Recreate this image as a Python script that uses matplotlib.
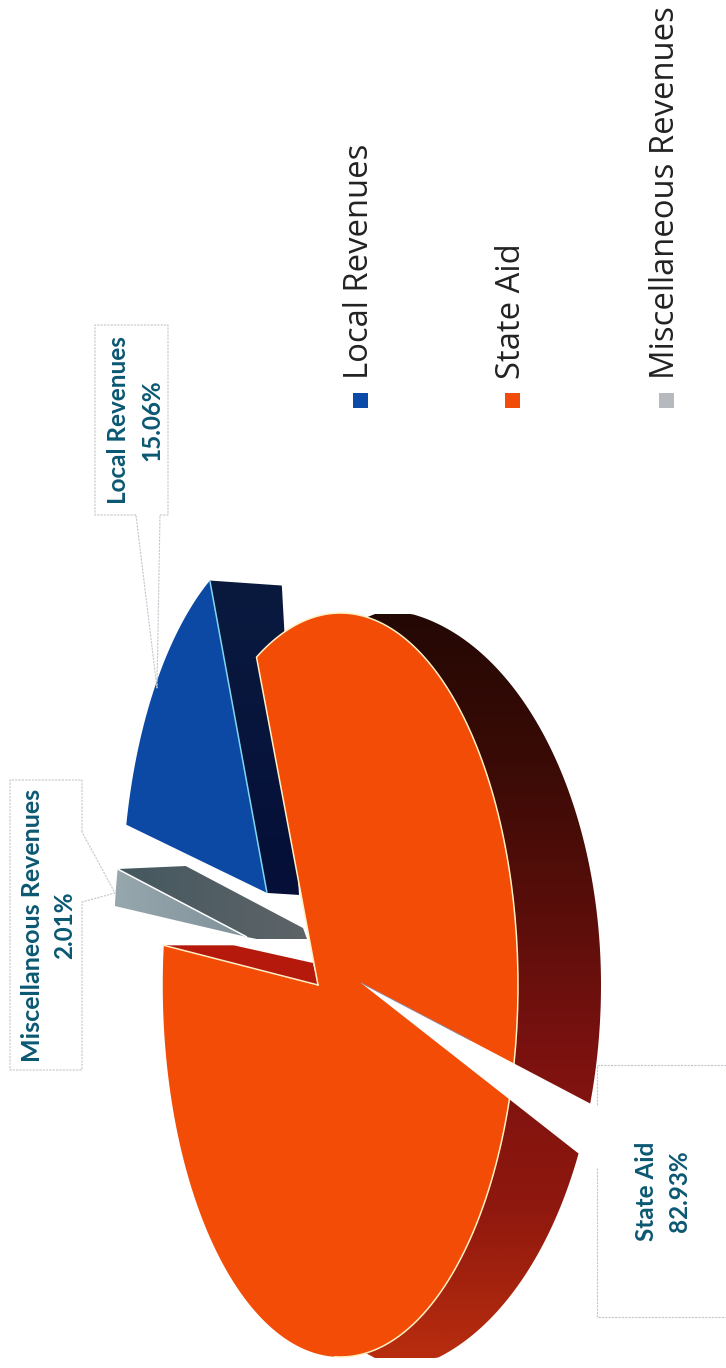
import matplotlib
matplotlib.use("Agg")
import matplotlib.pyplot as plt
import numpy as np
from matplotlib.colors import LinearSegmentedColormap
from matplotlib.patches import Polygon, Rectangle

plt.rcParams['font.family'] = ['Lato', 'DejaVu Sans']

# data
categories = ["Local Revenues", "State Aid", "Miscellaneous Revenues"]
shares = [15.06, 82.93, 2.01]
share_labels = ["15.06%", "82.93%", "2.01%"]
legend_colors = ["#0b4aa6", "#f24c0a", "#b6b9bd"]

# pie projection: the flat circle (u, v) goes to pixels through a perspective map
X0, Y0 = 318, 985
A, B, P = 174.8, 369, -0.126
STATE_START = 248.4   # degrees, clockwise on screen


def project(u, v):
    w = 1 + P * u
    return X0 + A * u / w, Y0 + B * v / w


def radial_end(theta, offset=(0, 0), radius=1.0):
    t = np.radians(theta)
    return project(offset[0] + radius * np.cos(t), offset[1] + radius * np.sin(t))


def slice_outline(start, sweep, offset=(0, 0), radius=1.0):
    theta = np.linspace(start, start + sweep, 240)
    t = np.radians(theta)
    x, y = project(offset[0] + radius * np.cos(t), offset[1] + radius * np.sin(t))
    ax0, ay0 = project(*offset)
    return np.column_stack([np.r_[ax0, x], np.r_[ay0, y]]), theta


def grad_fill(ax, points, colors, vertical=True, zorder=2):
    # gradient filled polygon, the image is clipped by the polygon
    patch = Polygon(points, closed=True, facecolor="none", edgecolor="none", zorder=zorder)
    ax.add_patch(patch)
    cmap = LinearSegmentedColormap.from_list("g", colors)
    ramp = np.linspace(0, 1, 256)
    ramp = ramp[:, None] if vertical else ramp[None, :]
    xs, ys = points[:, 0], points[:, 1]
    im = ax.imshow(ramp, cmap=cmap, aspect="auto", origin="upper", zorder=zorder,
                   extent=[xs.min(), xs.max(), ys.max(), ys.min()])
    im.set_clip_path(patch)


fig = plt.figure(figsize=(7.26, 13.68), dpi=100)
ax = fig.add_axes([0, 0, 1, 1])

sweeps = [s / sum(shares) * 360 for s in shares]
state_sweep = sweeps[1]
misc_start = STATE_START + state_sweep - 360
local_start = misc_start + sweeps[2]

# exploded slices
local_offset = (-0.303, -0.259)
misc_offset = (-0.428, -0.137)
misc_radius = 0.94

# --- State Aid cut side, seen through the gap
sx, sy = radial_end(misc_start)
wall = np.array([[sx, sy], [sx + 70, sy], [X0 - 5, Y0 - 22], [X0, Y0]])
ax.add_patch(Polygon(wall, closed=True, facecolor="#b5190b", edgecolor="none", zorder=2))

# --- Local Revenues
local_pts, _ = slice_outline(local_start, sweeps[0], local_offset)
lax, lay = project(*local_offset)
lex, ley = radial_end(local_start + sweeps[0], local_offset)
local_wall = np.array([[lax, lay], [lex, ley], [lex + 72, ley + 5], [lax + 32, lay + 2]])
grad_fill(ax, local_wall, ["#0a1a3f", "#050f38"], zorder=3)
ax.add_patch(Polygon(local_pts, closed=True, facecolor="#0b49a5", edgecolor="none", zorder=4))
ax.plot([lax, lex], [lay, ley], color="#7fd6ee", lw=1.1, zorder=5, solid_capstyle="butt")

# --- Miscellaneous Revenues
misc_pts, _ = slice_outline(misc_start, sweeps[2], misc_offset, misc_radius)
max_, may = project(*misc_offset)
mex, mey = radial_end(misc_start + sweeps[2], misc_offset, misc_radius)
misc_wall = np.array([[max_, may], [mex, mey], [mex + 68, mey - 3], [max_ + 56, may - 9],
                      [max_ + 60, may + 2], [max_ + 10, may + 2]])
grad_fill(ax, misc_wall, ["#44585f", "#5e6468"], vertical=False, zorder=3)
grad_fill(ax, misc_pts, ["#97a7ae", "#7f9199"], vertical=False, zorder=4)
ax.plot([max_, mex], [may, mey], color="white", lw=1.1, zorder=5, solid_capstyle="butt")

# --- State Aid outer wall, dark at the far end, bulging more towards the viewer's side
wall_t = np.radians(np.linspace(-90, 90, 200))
wall_y = Y0 + np.where(wall_t < 0, 376, 388) * np.sin(wall_t)
wall_x = 375 + 226 * np.cos(wall_t)
wall_pts = np.column_stack([np.r_[360, wall_x, 360], np.r_[620, np.clip(wall_y, 614, 1358), 1350]])
grad_fill(ax, wall_pts, ["#240804", "#3a0b06", "#5a0e0a", "#7c1210", "#8f180e", "#b82d0e"], zorder=6)

# --- State Aid top
state_pts, theta = slice_outline(STATE_START, state_sweep)
ax.add_patch(Polygon(state_pts, closed=True, facecolor="#f24c06", edgecolor="none", zorder=7))
# pale rim, none on the far left of the arc
rim = theta <= 360 + 85
ax.plot(np.r_[state_pts[1:][rim][::-1, 0], X0], np.r_[state_pts[1:][rim][::-1, 1], Y0],
        color="#fff1c4", lw=1.1, zorder=8)
ax.plot([sx, X0], [sy, Y0], color="#fff1c4", lw=1.1, zorder=8)

# --- callouts
box_edge = dict(color="#c3c7cd", lw=0.8, ls=(0, (2, 1)), zorder=11)
label_style = dict(color="#0b5872", fontweight="bold", rotation=90, ha="center", va="center", zorder=12)

# State Aid: white box with its pointer drawn over the pie
pointer = [(361, 983), (593, 1105), (597, 1105), (597, 1168)]
ax.add_patch(Polygon(pointer, closed=True, facecolor="white", edgecolor="none", zorder=10))
ax.add_patch(Rectangle((597, 1065), 135, 252, facecolor="white", edgecolor="none", zorder=10))
ax.plot([726, 597, 597], [1065, 1065, 1105], **box_edge)
ax.plot([597, 597, 726], [1168, 1317, 1317], **box_edge)
ax.plot([361, 470], [983, 1040], color="#8d8fb0", lw=0.6, zorder=11)
ax.text(647, 1191, categories[1], fontsize=17.5, **label_style)
ax.text(679, 1191, share_labels[1], fontsize=17.5, **label_style)

# Local Revenues
ax.plot([136, 95, 95, 168, 168, 160, 157, 136],
        [515, 515, 325, 325, 515, 515, 688, 515], **box_edge)
ax.text(118, 420, categories[0], fontsize=17.5, **label_style)
ax.text(152, 420, share_labels[0], fontsize=17.5, **label_style)

# Miscellaneous Revenues
ax.plot([82, 82, 10, 10, 82, 82, 115, 82],
        [832, 780, 780, 1070, 1070, 902, 893, 832], **box_edge)
ax.text(33, 925, categories[2], fontsize=18, **label_style)
ax.text(65, 925, share_labels[2], fontsize=17.5, **label_style)

# --- legend
legend_x = [360, 512, 666]
for name, col, lx in zip(categories, legend_colors, legend_x):
    ax.add_patch(Rectangle((lx - 7.5, 393), 15, 15, facecolor=col, edgecolor="none", zorder=12))
    ax.text(lx, 379, name, rotation=90, ha="center", va="bottom", fontsize=23.6,
            family=["Open Sans", "DejaVu Sans"], color="#222222", zorder=12)

ax.set_xlim(0, 726)
ax.set_ylim(1368, 0)
ax.axis("off")

plt.savefig("out.png", dpi=100)
plt.close()
